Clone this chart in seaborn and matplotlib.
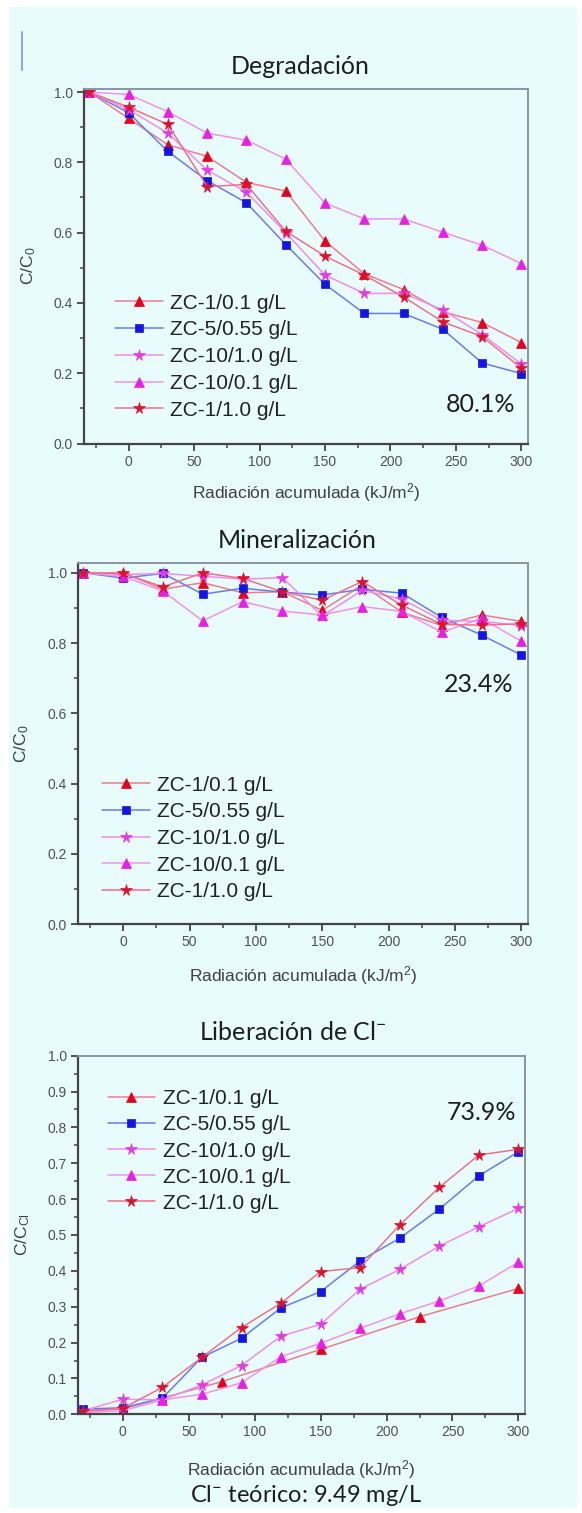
import matplotlib
matplotlib.use("Agg")
import matplotlib.pyplot as plt
from matplotlib.patches import Rectangle
from matplotlib.lines import Line2D
from matplotlib.ticker import MultipleLocator, FormatStrFormatter
import seaborn as sns

sns.set_theme(style="ticks")
plt.rcParams["font.family"] = ["Liberation Sans", "DejaVu Sans"]
plt.rcParams["mathtext.default"] = "regular"

W, H = 582, 1513
BG = "#e8fcfc"

# ---- data -------------------------------------------------------------
series_labels = ["ZC-1/0.1 g/L", "ZC-5/0.55 g/L", "ZC-10/1.0 g/L",
                 "ZC-10/0.1 g/L", "ZC-1/1.0 g/L"]

rad = [-30, 0, 30, 60, 90, 120, 150, 180, 210, 240, 270, 300]

# Degradación (C/C0)
deg_zc1_01 = [1.00, 0.925, 0.850, 0.817, 0.743, 0.718, 0.576, 0.483, 0.438, 0.375, 0.344, 0.287]
deg_zc5_055 = [1.00, 0.941, 0.831, 0.748, 0.685, 0.566, 0.453, 0.370, 0.370, 0.325, 0.229, 0.199]
deg_zc10_10 = [1.00, 0.950, 0.883, 0.778, 0.715, 0.600, 0.479, 0.427, 0.427, 0.380, 0.310, 0.226]
deg_zc10_01 = [1.00, 0.993, 0.944, 0.883, 0.863, 0.809, 0.684, 0.639, 0.639, 0.601, 0.564, 0.512]
deg_zc1_10 = [1.00, 0.957, 0.908, 0.731, 0.737, 0.604, 0.533, 0.479, 0.417, 0.346, 0.304, 0.214]

# Mineralización (C/C0)
min_zc1_01 = [1.00, 1.00, 0.953, 0.972, 0.943, 0.946, 0.893, 0.965, 0.888, 0.850, 0.880, 0.862]
min_zc5_055 = [1.00, 0.985, 0.998, 0.939, 0.956, 0.945, 0.937, 0.953, 0.942, 0.873, 0.823, 0.766]
min_zc10_10 = [1.00, 0.995, 0.998, 0.990, 0.982, 0.986, 0.877, 0.950, 0.925, 0.865, 0.862, 0.850]
min_zc10_01 = [1.00, 0.990, 0.948, 0.863, 0.918, 0.891, 0.880, 0.904, 0.890, 0.831, 0.870, 0.805]
min_zc1_10 = [1.00, 0.998, 0.960, 1.000, 0.984, 0.946, 0.922, 0.975, 0.908, 0.853, 0.851, 0.855]

# Liberación de Cl- (C/CCl)
cl_zc1_01_rad = [-30, 0, 75, 150, 225, 300]
cl_zc1_01 = [0.010, 0.015, 0.091, 0.181, 0.272, 0.351]
cl_zc5_055 = [0.015, 0.018, 0.045, 0.159, 0.212, 0.297, 0.342, 0.428, 0.491, 0.572, 0.665, 0.732]
cl_zc10_10 = [0.010, 0.042, 0.040, 0.082, 0.136, 0.218, 0.251, 0.349, 0.404, 0.469, 0.523, 0.574]
cl_zc10_01 = [0.005, 0.010, 0.040, 0.056, 0.088, 0.161, 0.198, 0.240, 0.280, 0.316, 0.358, 0.424]
cl_zc1_10 = [0.008, 0.017, 0.075, 0.159, 0.242, 0.310, 0.398, 0.409, 0.528, 0.633, 0.723, 0.739]

# ---- styles (marker, marker colour, line colour, marker size) ----------
styles = [
    ("^", "#e8001c", "#f07c8c", 7.5),
    ("s", "#1414e6", "#6a7cec", 6.0),
    ("*", "#e23ce2", "#f08cec", 8.5),
    ("^", "#ea1ee8", "#f292f0", 7.5),
    ("*", "#e0102e", "#f07088", 8.5),
]

fig = plt.figure(figsize=(W / 100, H / 100), dpi=100, facecolor="white")
fig.patches.append(Rectangle((9 / W, 5 / H), (W - 14) / W, (H - 12) / H,
                             transform=fig.transFigure, facecolor=BG,
                             edgecolor="none", zorder=-10))
# small vertical rule at the top-left corner
fig.add_artist(Line2D([21.7 / W, 21.7 / W], [1 - 32 / H, 1 - 70 / H],
                      transform=fig.transFigure, color="#9ea8cc", lw=1.5))


def px_axes(left, top, right, bottom):
    return fig.add_axes([left / W, 1 - bottom / H, (right - left) / W, (bottom - top) / H])


def px_text(x, y, s, **kw):
    fig.text(x / W, 1 - y / H, s, ha="center", va="center", **kw)


def draw_panel(ax, xs_list, ys_list, ylim, ymajor, yminor, ylabel, leg_anchor,
               leg_spacing):
    ax.set_facecolor(BG)
    for (xs, ys), lab, (mk, mc, lc, ms) in zip(zip(xs_list, ys_list), series_labels, styles):
        sns.lineplot(x=xs, y=ys, ax=ax, estimator=None, sort=False, label=lab,
                     color=lc, linewidth=1.1, marker=mk, markersize=ms,
                     markerfacecolor=mc, markeredgecolor=mc, markeredgewidth=0.5)
    ax.set_xlim(-34, 305)
    ax.set_ylim(*ylim)
    ax.xaxis.set_major_locator(MultipleLocator(50))
    ax.xaxis.set_minor_locator(MultipleLocator(25))
    ax.yaxis.set_major_locator(MultipleLocator(ymajor))
    ax.yaxis.set_minor_locator(MultipleLocator(yminor))
    ax.yaxis.set_major_formatter(FormatStrFormatter("%.1f"))
    ax.tick_params(which="major", length=5, width=1.3, color="#454545",
                   labelsize=10, labelcolor="#505050", pad=3,
                   top=False, right=False, direction="out")
    ax.tick_params(which="minor", length=3, width=1.1, color="#454545",
                   top=False, right=False, direction="out")
    for side in ("left", "bottom"):
        ax.spines[side].set_color("#454545")
        ax.spines[side].set_linewidth(1.6)
    for side in ("top", "right"):
        ax.spines[side].set_color("#8a94a4")
        ax.spines[side].set_linewidth(1.4)
    ax.set_xlabel("Radiación acumulada (kJ/m$^2$)", fontsize=12.5, color="#404040")
    ax.set_ylabel(ylabel, fontsize=12.5, color="#404040")
    ax.yaxis.set_label_coords(-0.104, 0.5)
    leg = ax.legend(loc="upper left", bbox_to_anchor=leg_anchor, frameon=False,
                    fontsize=15, handlelength=2.3, handletextpad=0.35,
                    labelspacing=leg_spacing, borderpad=0, borderaxespad=0,
                    numpoints=1)
    for t in leg.get_texts():
        t.set_color("#222222")


# Degradación
ax1 = px_axes(84, 88.5, 528, 443.5)
draw_panel(ax1, [rad] * 5,
           [deg_zc1_01, deg_zc5_055, deg_zc10_10, deg_zc10_01, deg_zc1_10],
           (0, 1.01), 0.2, 0.1, "C/C$_0$", (0.070, 0.422), 0.37)
ax1.xaxis.set_label_coords(0.5, -38 / 355)

# Mineralización
ax2 = px_axes(78, 563.3, 528, 924.3)
draw_panel(ax2, [rad] * 5,
           [min_zc1_01, min_zc5_055, min_zc10_10, min_zc10_01, min_zc1_10],
           (0, 1.027), 0.2, 0.1, "C/C$_0$", (0.053, 0.412), 0.37)
ax2.xaxis.set_label_coords(0.5, -40 / 361)

# Liberación de Cl-
ax3 = px_axes(78, 1055.7, 525, 1414.3)
draw_panel(ax3, [cl_zc1_01_rad, rad, rad, rad, rad],
           [cl_zc1_01, cl_zc5_055, cl_zc10_10, cl_zc10_01, cl_zc1_10],
           (0, 1.0), 0.1, 0.05, "C/C$_{Cl}$", (0.066, 0.906), 0.34)
ax3.xaxis.set_label_coords(0.5, -43.5 / 358.6)

title_kw = dict(fontsize=18, color="#1e1e1e", family=["Lato", "DejaVu Sans"])
px_text(300, 67, "Degradación", **title_kw)
px_text(297, 541, "Mineralización", **title_kw)
px_text(293, 1033, "Liberación de Cl$^{-}$", **title_kw)

pct_kw = dict(fontsize=18, color="#1e1e1e", family=["Lato", "DejaVu Sans"])
px_text(480.5, 405, "80.1%", **pct_kw)
px_text(479, 685, "23.4%", **pct_kw)
px_text(481.5, 1113, "73.9%", **pct_kw)

px_text(306, 1496, "Cl$^{-}$ teórico: 9.49 mg/L", fontsize=17, color="#1e1e1e",
        family=["Lato", "DejaVu Sans"])

fig.savefig("out.png", dpi=100, facecolor="white")
